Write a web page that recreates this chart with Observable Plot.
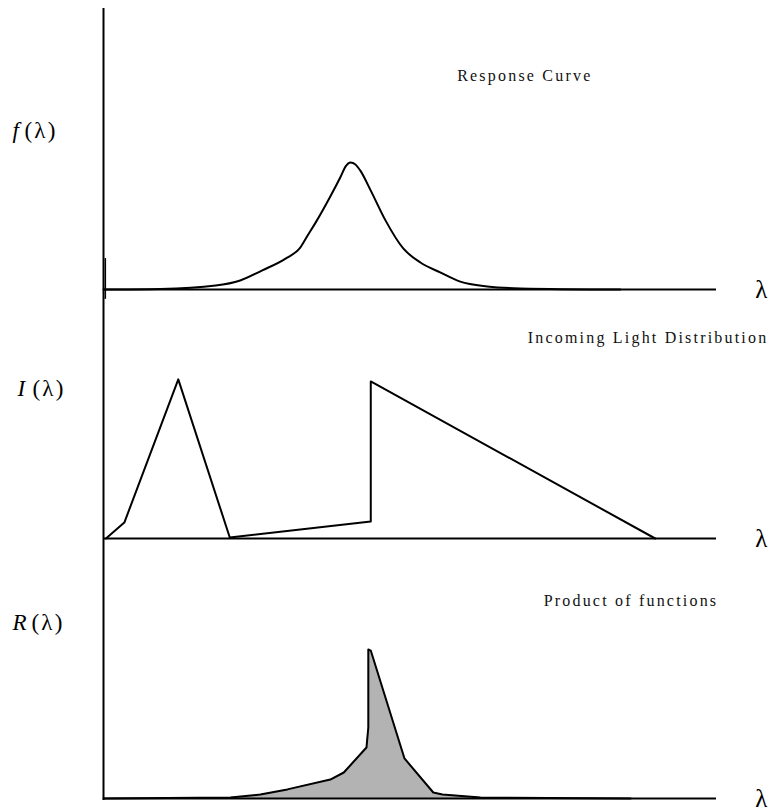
<!DOCTYPE html>
<html><head><meta charset="utf-8">
<script src="https://cdn.jsdelivr.net/npm/d3@7"></script>
<script src="https://cdn.jsdelivr.net/npm/@observablehq/plot@0.6"></script>
<style>
html,body{margin:0;padding:0;background:#fff;}
#chart{position:relative;width:771px;height:809px;}
#chart svg{position:absolute;left:0;top:0;}
#chart svg text, #chart svg g{font-family:"Liberation Serif","DejaVu Serif",serif !important;}
</style></head><body><div id="chart"></div>
<script>
// Wavelength in arbitrary units (0-100), values relative to each panel's height
const responseWl  = [0, 9.3, 18.3, 22.3, 25.9, 29.7, 32.1, 33.3, 34.6, 37.0, 38.7, 39.5, 40.3, 41.1, 41.9, 43.6, 46.0, 48.9, 51.7, 55.0, 58.2, 62.6, 68.0, 84.3];
const responseVal = [0, 0.002, 0.014, 0.032, 0.068, 0.110, 0.149, 0.192, 0.238, 0.331, 0.402, 0.438, 0.452, 0.445, 0.423, 0.352, 0.246, 0.146, 0.096, 0.060, 0.028, 0.011, 0.004, 0];

const lightWl  = [0.4, 3.4, 12.2, 20.6, 43.6, 43.6, 90.0];
const lightVal = [0, 0.064, 0.639, 0.004, 0.068, 0.631, 0];

const productWl  = [0, 20.7, 25.6, 30.0, 37.0, 39.2, 42.9, 43.2, 43.2, 43.6, 49.1, 53.8, 55.3, 61.5, 86.0];
const productVal = [0, 0.004, 0.015, 0.035, 0.073, 0.100, 0.196, 0.273, 0.573, 0.569, 0.154, 0.023, 0.015, 0.004, 0];

const panelTitles = ["Response Curve", "Incoming Light Distribution", "Product of functions"];
const panelLetters = ["f", "I", "R"];
const axisSymbol = "λ";

const toRows = (xs, ys) => xs.map((x, i) => ({x, y: ys[i]}));
const response = toRows(responseWl, responseVal);
const light = toRows(lightWl, lightVal);
const product = toRows(productWl, productVal);

const W = 771, H = 809;
const serif = "Liberation Serif";

function panel({top, bottom, title, titleX, titleY, letter, letterDx, parenDx, labelDy, marks, extendBottom = 0}) {
  return Plot.plot({
    width: W, height: H,
    marginLeft: 103, marginRight: 55, marginTop: top, marginBottom: H - bottom,
    x: {domain: [0, 100], axis: null},
    y: {domain: [0, 1], axis: null},
    style: {background: "transparent", overflow: "visible", letterSpacing: "2.2px", fontFamily: serif},
    marks: [
      ...marks,
      Plot.ruleY([0], {stroke: "black", strokeWidth: 2}),
      Plot.ruleX([0], {y1: -extendBottom, y2: 1, stroke: "black", strokeWidth: 2}),
      Plot.text([title], {x: titleX, y: titleY, textAnchor: "start", lineAnchor: "middle", fontSize: 16, fontFamily: serif, fill: "#111"}),
      Plot.text([letter], {frameAnchor: "top-left", dx: letterDx, dy: labelDy, textAnchor: "start", lineAnchor: "middle", fontSize: 23, fontFamily: serif, fontStyle: "italic"}),
      Plot.text(["(" + axisSymbol + ")"], {frameAnchor: "top-left", dx: parenDx, dy: labelDy, textAnchor: "start", lineAnchor: "middle", fontSize: 23, fontFamily: serif}),
      Plot.text([axisSymbol], {frameAnchor: "bottom-right", dx: 46, dy: 0, textAnchor: "middle", lineAnchor: "middle", fontSize: 25, fontFamily: serif})
    ]
  });
}

const chart = document.getElementById("chart");

chart.append(panel({
  top: 8, bottom: 289, title: panelTitles[0], titleX: 57.7, titleY: 0.762,
  letter: panelLetters[0], letterDx: -91, parenDx: -79, labelDy: 122,
  marks: [
    Plot.ruleX([0.3], {y1: -0.035, y2: 0.11, stroke: "black", strokeWidth: 1.5}),
    Plot.line(response, {x: "x", y: "y", curve: "monotone-x", stroke: "black", strokeWidth: 2})
  ]
}));

chart.append(panel({
  top: 289, bottom: 538, title: panelTitles[1], titleX: 69.2, titleY: 0.807,
  letter: panelLetters[1], letterDx: -86, parenDx: -71, labelDy: 99,
  marks: [
    Plot.line(light, {x: "x", y: "y", stroke: "black", strokeWidth: 2})
  ]
}));

chart.append(panel({
  top: 538, bottom: 798, title: panelTitles[2], titleX: 71.8, titleY: 0.762,
  letter: panelLetters[2], letterDx: -91, parenDx: -72, labelDy: 84, extendBottom: 0.008,
  marks: [
    Plot.area(product, {x1: "x", y1: 0, y2: "y", fill: "#b3b3b3"}),
    Plot.line(product, {x: "x", y: "y", stroke: "black", strokeWidth: 2})
  ]
}));
</script></body></html>
